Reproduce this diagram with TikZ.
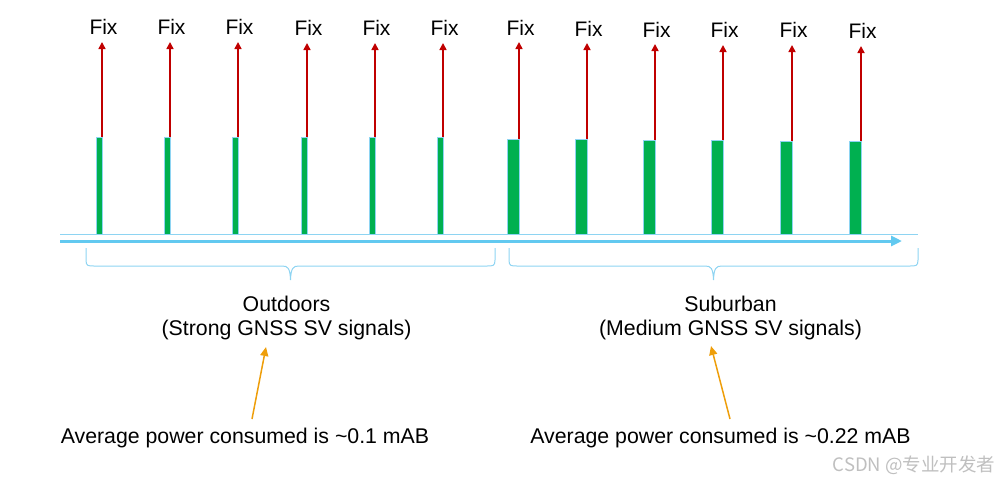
\documentclass[tikz,border=0pt]{standalone}
\usepackage{fontspec}
\setmainfont{Liberation Sans}
\newfontfamily\cjk{Noto Sans CJK SC}
\usetikzlibrary{arrows.meta}
\definecolor{pgreen}{HTML}{00B050}
\definecolor{lblue}{HTML}{8ED4F2}
\definecolor{axblue}{HTML}{62C9F0}
\definecolor{fixred}{HTML}{C00000}
\definecolor{orng}{HTML}{EE9E0A}
\tikzset{
  pulse/.style={fill=pgreen,draw=lblue,line width=0.9pt,inner sep=0pt,outer sep=0pt},
  fixarrow/.style={draw=fixred,line width=1.6pt,-{Triangle[length=7pt,width=7pt]}},
  fixlabel/.style={font=\fontsize{21}{24}\selectfont,anchor=base,inner sep=0pt},
  lbl/.style={font=\fontsize{21.3}{25}\selectfont,inner sep=0pt},
  brace/.style={draw=lblue,line width=1pt},
  noteline/.style={draw=orng,line width=1.5pt,-{Triangle[length=9pt,width=8pt]}},
}
\begin{document}
\begin{tikzpicture}[x=1pt,y=-1pt]
\useasboundingbox (0,0) rectangle (1002,483);
% baseline of signal
\coordinate (bl0) at (60,234);
\coordinate (bl1) at (918,234);
\draw[lblue,line width=1pt] (bl0) -- (bl1);
% time axis
\coordinate (ax0) at (60,241);
\coordinate (ax1) at (902,241);
\draw[axblue,line width=3pt,-{Triangle[length=11pt,width=10pt]}] (ax0) -- (ax1);
% pulses: left, right, top, arrow tip, label baseline, index
\foreach \l/\r/\t/\tip/\lb/\i in {
  96.5/102/137/42/34/1, 164.5/170/137/42/34/2, 232.5/238/137/42/34/3,
  301.5/307/137/43/35/4, 369.5/375/137/43/35/5, 437.5/443/137/43/35/6,
  507/519/139/42/35/7, 575/587/139/43/36/8, 643.5/655/140/44/37/9,
  711.5/723/140/45/37/10, 780/792/141/45/37/11, 849/861/141/46/38/12}{
  \node[pulse,minimum width={\r-\l},minimum height={234-\t},anchor=south west] (p\i) at (\l,234) {};
  \coordinate (t\i) at (\r,\tip);
  \draw[fixarrow] (p\i.north east) -- (t\i);
  \node[fixlabel] (f\i) at (\r+1.5,\lb) {Fix};
}
% braces
\draw[brace] (86,248) -- (86,260) .. controls (86,266) and (88,266) .. (94,266)
  -- (282,266) .. controls (288,266) and (290,268) .. (290.5,280)
  .. controls (291,268) and (293,266) .. (299,266)
  -- (487,266) .. controls (493,266) and (495,266) .. (495,260) -- (495,248);
\draw[brace] (509,248) -- (509,260) .. controls (509,266) and (511,266) .. (517,266)
  -- (705,266) .. controls (711,266) and (713,268) .. (713.5,280)
  .. controls (714,268) and (716,266) .. (722,266)
  -- (910,266) .. controls (916,266) and (918,266) .. (918,260) -- (918,248);
% labels
\node[lbl] (out) at (286.5,303.5) {Outdoors};
\node[lbl] (outs) at (286.5,329.5) {(Strong GNSS SV signals)};
\node[lbl] (sub) at (730.5,303.5) {Suburban};
\node[lbl] (subs) at (730.5,329.5) {(Medium GNSS SV signals)};
\node[lbl] (avg1) at (245,438) {Average power consumed is \textasciitilde0.1 mAB};
\node[lbl] (avg2) at (720.5,438) {Average power consumed is \textasciitilde0.22 mAB};
% note arrows
\coordinate (n1s) at (252,419);
\coordinate (n1t) at (266,347);
\coordinate (n2s) at (730,419);
\coordinate (n2t) at (711,346);
\draw[noteline] (n1s) -- (n1t);
\draw[noteline] (n2s) -- (n2t);
% watermark
\node[font=\cjk\fontsize{18.5}{21}\selectfont,text=black!25,inner sep=0pt] (wm) at (914,465) {CSDN @专业开发者};
\end{tikzpicture}
\end{document}
